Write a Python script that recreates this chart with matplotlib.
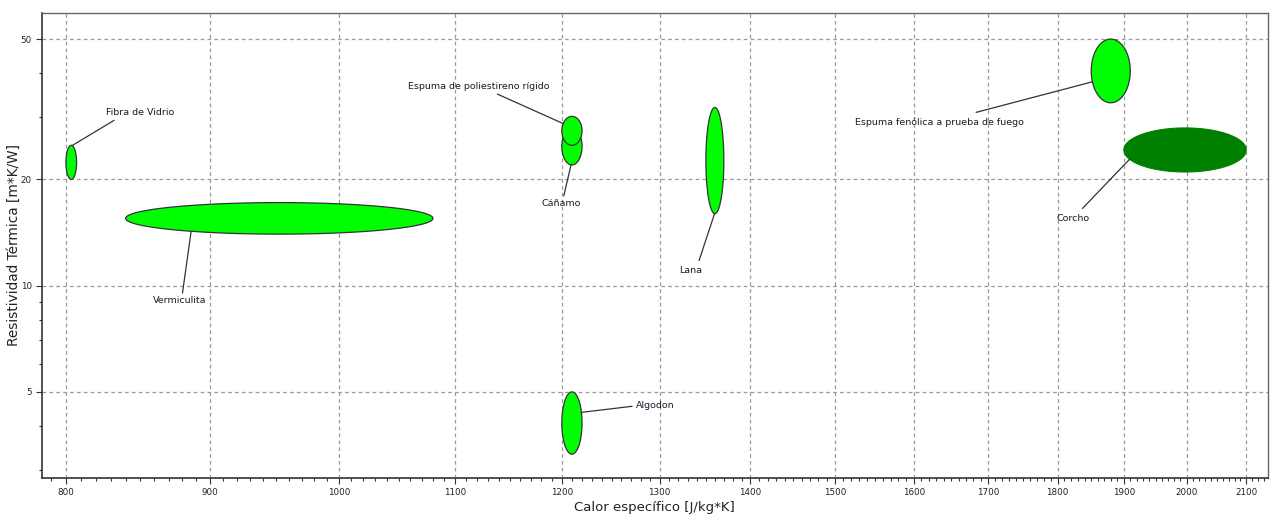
import numpy as np
import matplotlib
matplotlib.use("Agg")
import matplotlib.pyplot as plt
from matplotlib.ticker import FixedLocator, NullFormatter


# Material property ranges: specific heat [J/kg*K] and thermal resistivity [m*K/W]
materials = [
    "Fibra de Vidrio",
    "Vermiculita",
    "Cáñamo",
    "Espuma de poliestireno rígido",
    "Lana",
    "Algodon",
    "Espuma fenólica a prueba de fuego",
    "Corcho",
]
cp_min = [800, 840, 1200, 1200, 1350, 1200, 1850, 1900]
cp_max = [807, 1080, 1220, 1220, 1370, 1220, 1910, 2100]
res_min = [20.0, 14.0, 22.0, 25.0, 16.0, 3.33, 33.0, 21.0]
res_max = [25.0, 17.2, 28.0, 30.2, 32.0, 5.0, 50.0, 28.0]

x_major = [800, 900, 1000, 1100, 1200, 1300, 1400, 1500, 1600, 1700, 1800, 1900, 2000, 2100]
y_major = [5, 10, 20, 50]
y_minor = [3, 4, 6, 7, 8, 9, 30, 40]

# label layout: text position, where the leader leaves the text, angle on the ellipse
label_pos = {
    "Fibra de Vidrio": ((826.6, 31.0), "left", (832, 29.4), 80),
    "Vermiculita": ((878.3, 9.08), "center", (880, 9.54), 235),
    "Cáñamo": ((1199.8, 17.12), "center", (1202, 18.0), 265),
    "Espuma de poliestireno rígido": ((1121, 36.8), "center", (1138.6, 34.9), 150),
    "Lana": ((1333.4, 11.05), "center", (1342.6, 11.8), 268),
    "Algodon": ((1274.9, 4.57), "left", (1270.7, 4.55), 20),
    "Espuma fenólica a prueba de fuego": ((1634, 29.06), "center", (1684, 31.0), 200),
    "Corcho": ((1822, 15.51), "center", (1837, 16.57), 205),
}

LIGHT = "#00ff00"
DARK = "#008000"


def ellipse_outline(x0, x1, y0, y1, n=200):
    """Ellipse spanning the ranges, built in log space so it looks round on log axes."""
    cx, cy = np.log((x0 * x1) ** 0.5), np.log((y0 * y1) ** 0.5)
    ax_, ay_ = np.log(x1 / x0) / 2, np.log(y1 / y0) / 2
    t = np.linspace(0, 2 * np.pi, n)
    return np.exp(cx + ax_ * np.cos(t)), np.exp(cy + ay_ * np.sin(t))


def ellipse_point(x0, x1, y0, y1, angle):
    cx, cy = np.log((x0 * x1) ** 0.5), np.log((y0 * y1) ** 0.5)
    ax_, ay_ = np.log(x1 / x0) / 2, np.log(y1 / y0) / 2
    a = np.radians(angle)
    return np.exp(cx + ax_ * np.cos(a)), np.exp(cy + ay_ * np.sin(a))


plt.rcParams["font.family"] = ["DejaVu Sans"]

fig = plt.figure(figsize=(12.71, 5.14), dpi=100)
ax = fig.add_axes([0.0328, 0.0695, 0.9648, 0.9058])
ax.set_xscale("log")
ax.set_yscale("log")
ax.set_xlim(784.3, 2137.6)
ax.set_ylim(2.845, 59.4)

for i, name in enumerate(materials):
    xs, ys = ellipse_outline(cp_min[i], cp_max[i], res_min[i], res_max[i])
    if name == "Corcho":
        ax.fill(xs, ys, facecolor=DARK, edgecolor=DARK, linewidth=0.8, zorder=3)
    else:
        ax.fill(xs, ys, facecolor=LIGHT, edgecolor="#333333", linewidth=0.9, zorder=3)

    (tx, ty), ha, (lx, ly), ang = label_pos[name]
    px, py = ellipse_point(cp_min[i], cp_max[i], res_min[i], res_max[i], ang)
    ax.plot([lx, px], [ly, py], color="#333333", linewidth=0.9, zorder=4)
    ax.text(tx, ty, name, ha=ha, va="center", fontsize=6.8, color="#1a1a2a", zorder=5)

ax.xaxis.set_major_locator(FixedLocator(x_major))
ax.xaxis.set_minor_locator(FixedLocator(np.arange(790, 2140, 10)))
ax.xaxis.set_major_formatter(plt.FixedFormatter([str(v) for v in x_major]))
ax.xaxis.set_minor_formatter(NullFormatter())
ax.yaxis.set_major_locator(FixedLocator(y_major))
ax.yaxis.set_minor_locator(FixedLocator(y_minor))
ax.yaxis.set_major_formatter(plt.FixedFormatter([str(v) for v in y_major]))
ax.yaxis.set_minor_formatter(NullFormatter())

ax.tick_params(which="major", length=4, width=0.8, color="#333333",
               labelsize=6.3, labelcolor="#222222", pad=3)
ax.tick_params(which="minor", length=2, width=0.8, color="#333333")

ax.grid(True, which="major", color="#9a9a9a", linestyle=(0, (3, 2.5)), linewidth=0.9)
ax.set_axisbelow(True)

for side in ("left", "bottom"):
    ax.spines[side].set_color("#333333")
    ax.spines[side].set_linewidth(1.2)
for side in ("top", "right"):
    ax.spines[side].set_color("#666666")
    ax.spines[side].set_linewidth(1.0)

ax.set_xlabel("Calor específico [J/kg*K]", fontsize=9.5, color="#222222", labelpad=3)
ax.set_ylabel("Resistividad Térmica [m*K/W]", fontsize=9.8, color="#222222", labelpad=0)

fig.savefig("out.png", dpi=100)
